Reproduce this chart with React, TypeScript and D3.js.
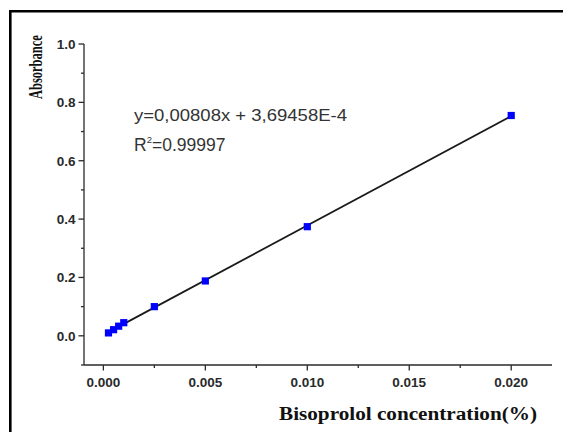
import React from "react";
import * as d3 from "d3";

const concentrations = [0.00025, 0.0005, 0.00075, 0.001, 0.0025, 0.005, 0.01, 0.02];
const absorbances = [0.010, 0.021, 0.033, 0.045, 0.100, 0.188, 0.374, 0.755];
const xMajorTicks = [0, 0.005, 0.01, 0.015, 0.02];
const xMinorTicks = [0.0025, 0.0075, 0.0125, 0.0175];
const yMajorTicks = [0, 0.2, 0.4, 0.6, 0.8, 1.0];
const yMinorTicks = [-0.1, 0.1, 0.3, 0.5, 0.7, 0.9];
const equationText = "y=0,00808x + 3,69458E-4";
const r2Value = "=0.99997";
const xTitle = "Bisoprolol concentration(%)";
const yTitle = "Absorbance";

const W = 563;
const H = 432;

export default function App() {
  const x = d3.scaleLinear().domain([-0.00095, 0.022]).range([84, 552]);
  const y = d3.scaleLinear().domain([-0.1, 1.0]).range([365, 44]);

  const n = concentrations.length;
  const mx = d3.mean(concentrations)!;
  const my = d3.mean(absorbances)!;
  let sxy = 0, sxx = 0;
  for (let i = 0; i < n; i++) {
    sxy += (concentrations[i] - mx) * (absorbances[i] - my);
    sxx += (concentrations[i] - mx) ** 2;
  }
  const slope = sxy / sxx;
  const intercept = my - slope * mx;
  const x0 = d3.min(concentrations)!;
  const x1 = d3.max(concentrations)!;
  const fitLine = d3.line<number>().x((d) => x(d)).y((d) => y(slope * d + intercept));

  const axisColor = "#2a2a2a";
  const sans = "'Liberation Sans', Arial, sans-serif";
  const serif = "'Liberation Serif', 'Times New Roman', serif";

  return (
    <svg
      width={W}
      height={H}
      style={{ position: "absolute", left: 0, top: 0, background: "#fff" }}
    >
      <rect x={0} y={0} width={W} height={H} fill="#fff" />
      {/* frame */}
      <line x1={9} x2={W} y1={11.2} y2={11.2} stroke="#000" strokeWidth={2.6} />
      <line x1={10.3} x2={10.3} y1={10} y2={H} stroke="#000" strokeWidth={2.6} />

      {/* axes */}
      <line x1={x.range()[0]} x2={x.range()[1]} y1={365} y2={365} stroke={axisColor} strokeWidth={1.3} />
      <line x1={84} x2={84} y1={y.range()[1]} y2={y.range()[0]} stroke={axisColor} strokeWidth={1.3} />

      {xMajorTicks.map((t) => (
        <g key={"xM" + t}>
          <line x1={x(t)} x2={x(t)} y1={365} y2={370.5} stroke={axisColor} strokeWidth={1.3} />
          <text
            x={x(t)}
            y={387}
            textAnchor="middle"
            fontFamily={sans}
            fontWeight="bold"
            fontSize={13.5}
            fill="#2a2a2a"
          >
            {t.toFixed(3)}
          </text>
        </g>
      ))}
      {xMinorTicks.map((t) => (
        <line key={"xm" + t} x1={x(t)} x2={x(t)} y1={365} y2={368} stroke={axisColor} strokeWidth={1.3} />
      ))}
      {yMajorTicks.map((t) => (
        <g key={"yM" + t}>
          <line x1={78.5} x2={84} y1={y(t)} y2={y(t)} stroke={axisColor} strokeWidth={1.3} />
          <text
            x={75.5}
            y={y(t) + 5}
            textAnchor="end"
            fontFamily={sans}
            fontWeight="bold"
            fontSize={13.5}
            fill="#2a2a2a"
          >
            {t.toFixed(1)}
          </text>
        </g>
      ))}
      {yMinorTicks.map((t) => (
        <line key={"ym" + t} x1={81} x2={84} y1={y(t)} y2={y(t)} stroke={axisColor} strokeWidth={1.3} />
      ))}

      {/* fit line */}
      <path d={fitLine([x0, x1]) || ""} stroke="#1a1a1a" strokeWidth={1.8} fill="none" />

      {/* points */}
      {concentrations.map((c, i) => (
        <rect
          key={"p" + i}
          x={x(c) - 3.6}
          y={y(absorbances[i]) - 3.6}
          width={7.2}
          height={7.2}
          fill="#0000ff"
        />
      ))}

      {/* equation */}
      <text
        x={134}
        y={120.5}
        fontFamily={sans}
        fontSize={17}
        fill="#333"
        textLength={213}
        lengthAdjust="spacingAndGlyphs"
      >
        {equationText}
      </text>
      <text x={134} y={151} fontFamily={sans} fontSize={17.5} fill="#333">
        R<tspan fontSize={9.5} dy={-8}>2</tspan>
        <tspan dy={8}>{r2Value}</tspan>
      </text>

      {/* axis titles */}
      <text
        x={279}
        y={420}
        fontFamily={serif}
        fontWeight="bold"
        fontSize={18.5}
        fill="#111"
        textLength={258}
        lengthAdjust="spacingAndGlyphs"
      >
        {xTitle}
      </text>
      <text
        transform={`translate(41.5, 99) rotate(-90) scale(0.64, 1)`}
        x={0}
        y={0}
        fontFamily={serif}
        fontWeight="bold"
        fontSize={19.5}
        fill="#111"
      >
        {yTitle}
      </text>
    </svg>
  );
}
